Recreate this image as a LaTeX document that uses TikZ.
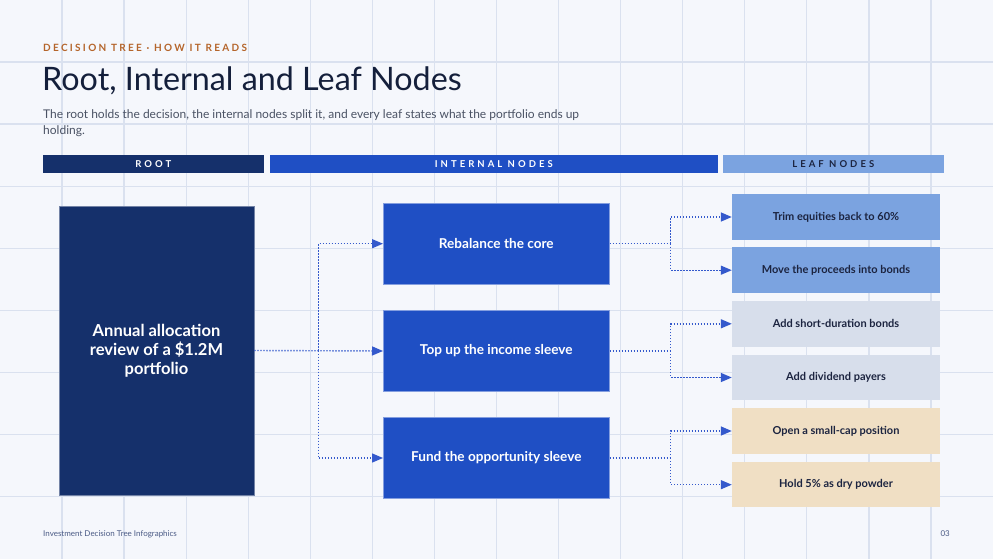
\documentclass[tikz,border=0pt]{standalone}
\usepackage{fontspec}
\setmainfont{Lato}
\usetikzlibrary{arrows.meta}
\definecolor{bgc}{HTML}{F5F7FC}
\definecolor{gridc}{HTML}{DAE1EF}
\definecolor{eyebrowc}{HTML}{B5652B}
\definecolor{titlec}{HTML}{141F3B}
\definecolor{subc}{HTML}{4A5264}
\definecolor{rootc}{HTML}{15306B}
\definecolor{intc}{HTML}{1F4FC4}
\definecolor{leafbluec}{HTML}{7BA3E0}
\definecolor{leafgrayc}{HTML}{D7DEEB}
\definecolor{leafsandc}{HTML}{F0DFC4}
\definecolor{leaftextc}{HTML}{1C2440}
\definecolor{connc}{HTML}{3459CC}
\definecolor{footc}{HTML}{4A5A85}
\tikzset{
  hdrbar/.style={minimum height=17.5pt, inner sep=0pt, text=white,
    font=\fontsize{9.5}{10}\selectfont\bfseries\addfontfeature{LetterSpace=32}},
  rootbox/.style={fill=rootc, draw=rootc!60!white, line width=0.6pt, minimum width=195pt, minimum height=289pt,
    text=white, align=center, inner sep=0pt, font=\fontsize{16.5}{19}\selectfont\bfseries},
  intbox/.style={fill=intc, draw=intc!55!white, line width=0.6pt, minimum width=226pt, minimum height=80.5pt,
    text=white, align=center, inner sep=0pt, font=\fontsize{13.6}{15}\selectfont\bfseries},
  leafbox/.style={minimum width=208pt, minimum height=45.5pt, inner sep=0pt,
    text=leaftextc, font=\fontsize{11}{12}\selectfont\bfseries},
  conn/.style={connc, line width=1.4pt, dash pattern=on 1.4pt off 1.6pt,
    -{Triangle[length=11pt,width=9pt]}},
  connline/.style={connc, line width=1.4pt, dash pattern=on 1.4pt off 1.6pt},
}
\begin{document}
\begin{tikzpicture}[x=1pt,y=-1pt]
\useasboundingbox (0,0) rectangle (993,559);
\fill[bgc] (0,0) rectangle (993,559);
\foreach \k in {1,...,15} \draw[gridc, line width=1.3pt] ({62.0625*\k},0) -- ({62.0625*\k},559);
\foreach \k in {1,...,8} \draw[gridc, line width=1.3pt] (0,{62.0625*\k}) -- (993,{62.0625*\k});

% header texts
\node[anchor=base west, inner sep=0pt, text=eyebrowc, font=\fontsize{10}{11}\selectfont\bfseries\addfontfeature{LetterSpace=23}] (eyebrow) at (43,52) {DECISION TREE · HOW IT READS};
\node[anchor=base west, inner sep=0pt, text=titlec, font=\fontsize{32.3}{36}\selectfont] (title) at (42,91) {Root, Internal and Leaf Nodes};
\node[anchor=base west, inner sep=0pt, text=subc, font=\fontsize{12}{16}\selectfont, align=left] (sub) at (43,135) {The root holds the decision, the internal nodes split it, and every leaf states what the portfolio ends up\\holding.};

% column bars
\node[hdrbar, fill=rootc, minimum width=220.5pt] (hroot) at (153.25,163.75) {ROOT};
\node[hdrbar, fill=intc, minimum width=447.5pt] (hint) at (493.75,163.75) {INTERNAL NODES};
\node[hdrbar, fill=leafbluec, text=leaftextc, minimum width=220.5pt] (hleaf) at (833.25,163.75) {LEAF NODES};

% nodes
\node[rootbox] (root) at (156.5,350.5) {Annual allocation\\review of a \$1.2M\\portfolio};
\node[intbox] (i1) at (496.3,243.7) {Rebalance the core};
\node[intbox] (i2) at (496.3,351) {Top up the income sleeve};
\node[intbox] (i3) at (496.3,458) {Fund the opportunity sleeve};

\node[leafbox, fill=leafbluec] (l1) at (836,217) {Trim equities back to 60\%};
\node[leafbox, fill=leafbluec] (l2) at (836,270.2) {Move the proceeds into bonds};
\node[leafbox, fill=leafgrayc] (l3) at (836,323.8) {Add short-duration bonds};
\node[leafbox, fill=leafgrayc] (l4) at (836,377.5) {Add dividend payers};
\node[leafbox, fill=leafsandc] (l5) at (836,431) {Open a small-cap position};
\node[leafbox, fill=leafsandc] (l6) at (836,484.7) {Hold 5\% as dry powder};

% connectors
\coordinate (t0) at (318.3,350.5);
\draw[conn] (root.east) -- (i2.west);
\draw[conn] (t0) |- (i1.west);
\draw[conn] (t0) |- (i3.west);

\coordinate (b1) at (670.7,243.7);
\coordinate (b2) at (670.7,351);
\coordinate (b3) at (670.7,458);
\draw[connline] (i1.east) -- (b1);
\draw[conn] (b1) |- (l1.west);
\draw[conn] (b1) |- (l2.west);
\draw[connline] (i2.east) -- (b2);
\draw[conn] (b2) |- (l3.west);
\draw[conn] (b2) |- (l4.west);
\draw[connline] (i3.east) -- (b3);
\draw[conn] (b3) |- (l5.west);
\draw[conn] (b3) |- (l6.west);

% footer
\node[anchor=base west, inner sep=0pt, text=footc, font=\fontsize{8}{10}\selectfont] (foot) at (43,536) {Investment Decision Tree Infographics};
\node[anchor=base east, inner sep=0pt, text=footc, font=\fontsize{8}{10}\selectfont] (page) at (950,536) {03};
\end{tikzpicture}
\end{document}
